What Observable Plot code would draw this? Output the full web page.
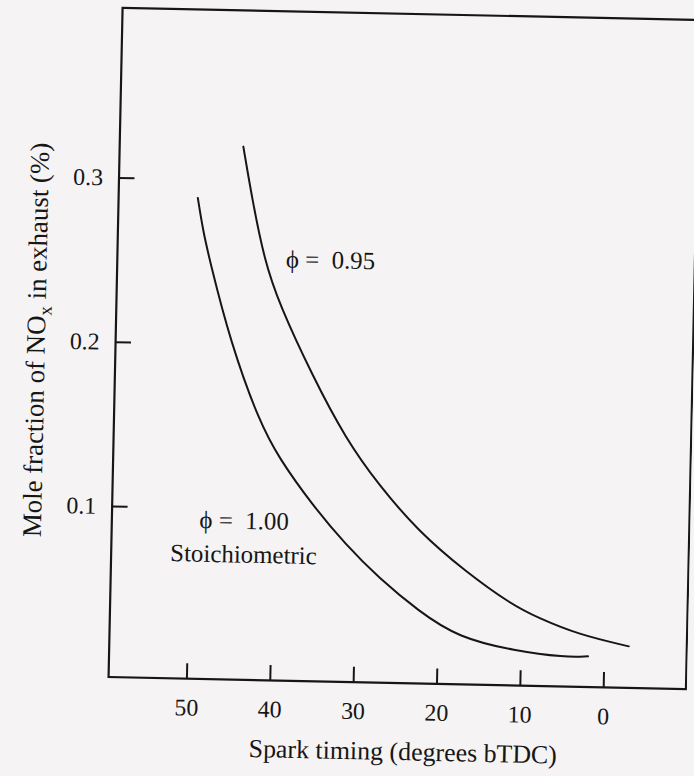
<!DOCTYPE html>
<html><head><meta charset="utf-8">
<script src="https://cdn.jsdelivr.net/npm/d3@7"></script>
<script src="https://cdn.jsdelivr.net/npm/@observablehq/plot@0.6"></script>
<style>
html,body{margin:0;padding:0;background:#f5f3f4;overflow:hidden;width:694px;height:776px}
#chart svg{display:block;transform:rotate(1.2deg);transform-origin:399px 349px}
</style></head><body><div id="chart"></div>
<script>
// Tick values
const xTicks = [50, 40, 30, 20, 10, 0];
const yTicks = [0.1, 0.2, 0.3];

// phi = 1.00 (stoichiometric) curve: spark timing (deg bTDC) vs NOx mole fraction (%)
const phi100X = [49.9, 49.22, 48.35, 45.63, 41.96, 39.49, 35.39, 31.29, 27.23, 22.37, 17.53, 10.73, 4.74, 1.96];
const phi100Y = [0.2889, 0.2697, 0.2516, 0.2016, 0.1534, 0.1314, 0.1035, 0.0797, 0.0599, 0.0402, 0.0246, 0.0173, 0.0140, 0.0149];

// phi = 0.95 curve
const phi095X = [44.57, 43.36, 41.78, 39.87, 35.71, 31.57, 27.47, 22.58, 16.90, 11.25, 8.03, 3.2, -2.91];
const phi095Y = [0.3207, 0.2885, 0.2523, 0.2253, 0.1822, 0.1443, 0.1164, 0.0887, 0.0651, 0.0454, 0.0377, 0.0281, 0.0215];

// In-chart annotations
const labelText = ["\u03D5 = \u00A00.95", "\u03D5 = \u00A01.00", "Stoichiometric"];
const labelX = [39.19, 48.89, 52.31];
const labelY = [0.2526, 0.0929, 0.0724];

const xTitle = "Spark timing (degrees bTDC)";

const ink = "#161616";
const curve100 = phi100X.map((x, i) => ({x, y: phi100Y[i]}));
const curve095 = phi095X.map((x, i) => ({x, y: phi095Y[i]}));
const labels = labelText.map((t, i) => ({t, x: labelX[i], y: labelY[i]}));

const plot = Plot.plot({
  width: 697,
  height: 776,
  marginLeft: 115.5,
  marginRight: 1.5,
  marginTop: 13.3,
  marginBottom: 90.5,
  style: {background: "transparent", fontFamily: "'Liberation Serif','Times New Roman',serif", fontSize: "24px", color: ink},
  x: {domain: [59.4, -9.87]},
  y: {domain: [-0.0038, 0.4036]},
  marks: [
    Plot.frame({stroke: ink, strokeWidth: 2.2}),
    Plot.axisX({ticks: xTicks, tickSize: -15, tickPadding: 35, strokeWidth: 2, fontSize: 24, label: null, fill: ink}),
    Plot.axisY({ticks: yTicks, tickSize: -16, tickPadding: 32, strokeWidth: 2, fontSize: 24, tickFormat: d3.format(".1f"), label: null, fill: ink}),
    Plot.line(curve100, {x: "x", y: "y", curve: "basis", stroke: ink, strokeWidth: 2}),
    Plot.line(curve095, {x: "x", y: "y", curve: "basis", stroke: ink, strokeWidth: 2}),
    Plot.text(labels, {x: "x", y: "y", text: "t", textAnchor: "start", lineAnchor: "middle", fontSize: 25, fill: ink}),
    Plot.text([xTitle], {text: d => d, frameAnchor: "bottom", dx: 7, dy: 69, lineAnchor: "middle", fontSize: 26, fill: ink})
  ]
});

const svg = d3.select(plot);
const t = svg.append("text")
  .attr("transform", "translate(45,349) rotate(-90)")
  .attr("text-anchor", "middle")
  .attr("font-size", 27)
  .attr("fill", ink);
t.append("tspan").text("Mole fraction of NO");
t.append("tspan").attr("font-size", 19).attr("dy", 6).text("x");
t.append("tspan").attr("dy", -6).text(" in exhaust (%)");

document.getElementById("chart").appendChild(plot);
</script>
</body></html>
